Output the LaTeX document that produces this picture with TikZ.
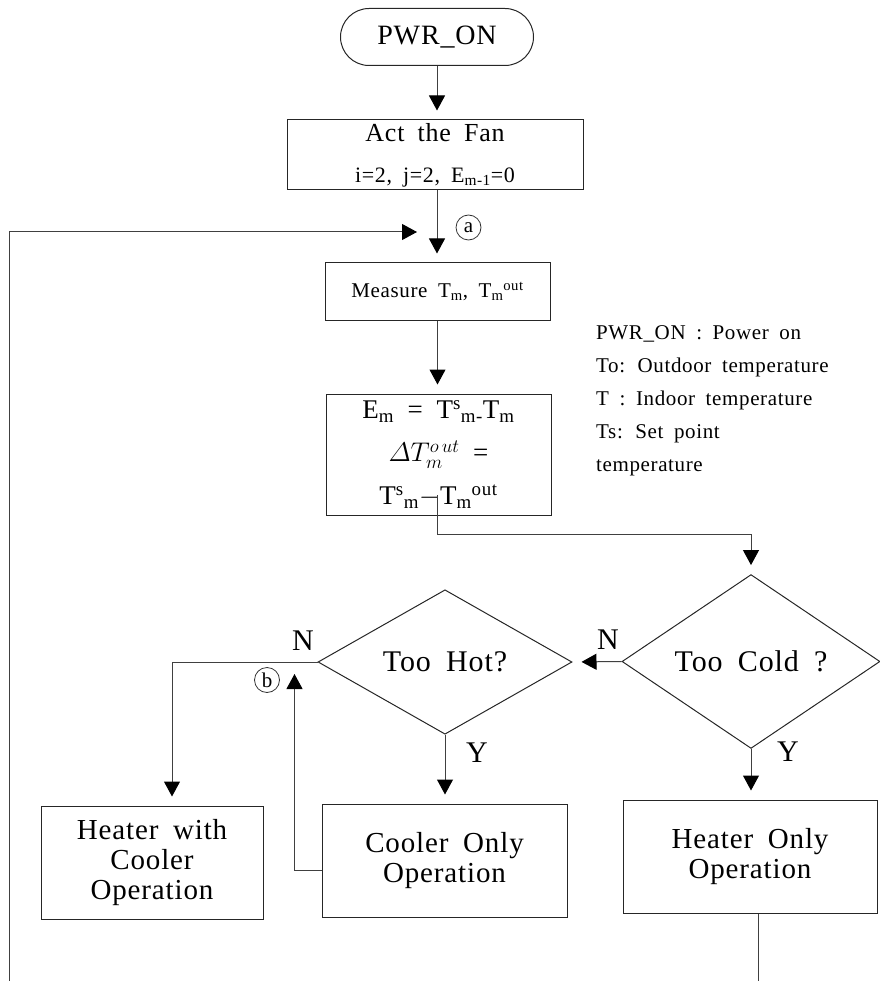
\RequirePackage{fix-cm}
\documentclass[tikz,border=0pt]{standalone}
\usepackage{fontspec}
\setmainfont{Liberation Serif}[WordSpace=1.8,LetterSpace=3]
\usepackage{tikz}
\usetikzlibrary{calc,shapes,positioning}
\usetikzlibrary{arrows.meta}
\tikzset{>={Triangle[width=16pt,length=15pt,color=black]}}

\begin{document}
\begin{tikzpicture}[x=1pt,y=-1pt]
          \tikzstyle{pbox} = [draw=black!85, line width=1pt, rectangle, inner sep=0pt, align=center]
          \tikzstyle{dnode} = [draw=black!85, line width=1pt, diamond, inner sep=0pt, align=center, font=\fontsize{30}{30}\selectfont]
          \tikzstyle{wire} = [draw=black!75, line width=1pt]
          \tikzstyle{lnk} = [wire, ->, shorten >=9pt]
          \tikzstyle{yn} = [inner sep=0pt, font=\fontsize{30}{30}\selectfont]
          \tikzstyle{tagc} = [draw=black!80, line width=0.8pt, circle, inner sep=0pt, minimum size=25pt, font=\fontsize{21}{21}\selectfont]

          \useasboundingbox (0,0) rectangle (879,981);

          \node[pbox, rounded rectangle, minimum width=193pt, minimum height=57pt, font=\fontsize{28}{28}\selectfont] (pwr) at (437,37) {PWR\_ON};
          \node[pbox, minimum width=296pt, minimum height=70pt, font=\fontsize{26}{41}\selectfont] (fan) at (435,155) {Act the Fan\\{\fontsize{22}{41}\selectfont i=2, j=2, E\textsubscript{m-1}=0}};
          \node[pbox, minimum width=225pt, minimum height=57pt, font=\fontsize{21}{21}\selectfont] (meas) at (437.5,291.5) {Measure T\textsubscript{m}, T\textsubscript{m}\textsuperscript{out}};
          \node[pbox, minimum width=225pt, minimum height=121pt, font=\fontsize{27}{43}\selectfont] (err) at (438.5,454.5) {E\textsubscript{m} = T\textsuperscript{s}\textsubscript{m-}T\textsubscript{m}\\$\mathnormal{\Delta} T_m^{o\,ut}$ =\\T\textsuperscript{s}\textsubscript{m}$-$T\textsubscript{m}\textsuperscript{out}};
          \node[anchor=north west, inner sep=0pt, align=left, font=\fontsize{21}{33}\selectfont] (legend) at (596,325) {PWR\_ON : Power on\\To: Outdoor temperature\\T : Indoor temperature\\Ts: Set point\\temperature};

          \node[dnode, minimum width=254pt, minimum height=139pt] (hot) at (445,662) {Too Hot?};
          \node[dnode, minimum width=258pt, minimum height=137pt] (cold) at (751,661.5) {Too Cold ?};

          \node[pbox, minimum width=222pt, minimum height=113pt, font=\fontsize{29}{30}\selectfont] (hwc) at (152,862.5) {Heater with\\Cooler\\Operation};
          \node[pbox, minimum width=245pt, minimum height=113pt, font=\fontsize{29}{30}\selectfont] (coo) at (444.5,860.5) {Cooler Only\\Operation};
          \node[pbox, minimum width=254pt, minimum height=113pt, font=\fontsize{29}{30}\selectfont] (hoo) at (750,856.5) {Heater Only\\Operation};

          \node[yn] (nh) at (303,641) {N};
          \node[yn] (yh) at (477,753) {Y};
          \node[yn] (nc) at (608,640) {N};
          \node[yn] (yc) at (788,752) {Y};
          \node[tagc] (ta) at (468.5,227.5) {a};
          \node[tagc] (tb) at (267,680) {b};

          \coordinate (aj) at (437,232);
          \coordinate (fb) at (9,981);
          \coordinate (eout) at (437,495);
          \coordinate (hend) at (758,981);

          \draw[lnk] (pwr.south) -- (pwr.south |- fan.north);
          \draw[lnk] (aj |- fan.south) -- (aj |- meas.north);
          \draw[lnk] (meas.south) -- (meas.south |- err.north);
          \draw[lnk] (fb) |- ([xshift=-11pt]aj);
          \draw[lnk] (eout) -- ++(0,39) -| (cold.north);
          \draw[lnk] (cold.west) -- (hot.east);
          \draw[lnk] (hot.south) -- (hot.south |- coo.north);
          \draw[lnk] (cold.south) -- (cold.south |- hoo.north);
          \draw[lnk] (hot.west) -| ([xshift=20pt]hwc.north);
          \draw[lnk] ([yshift=-10pt]coo.west) -| ([xshift=-23pt,yshift=-3pt]hot.west);
          \draw[wire] (hoo.south -| hend) -- (hend);
        \end{tikzpicture}
\end{document}
